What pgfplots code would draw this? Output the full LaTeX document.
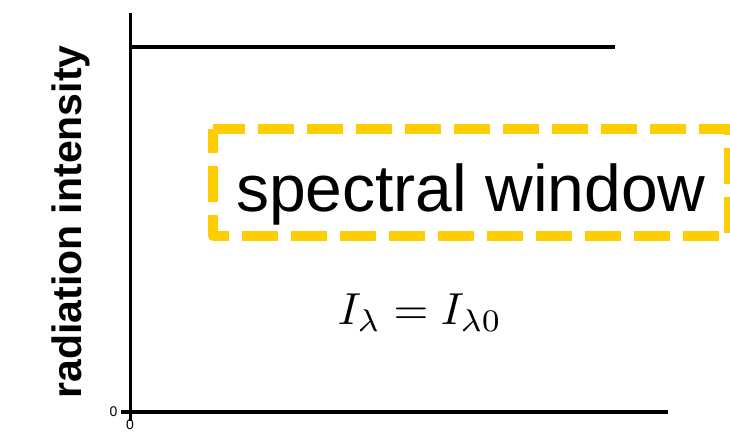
\documentclass[border=0pt]{standalone}
\usepackage{fontspec}
\setmainfont{Liberation Sans}
\usepackage{pgfplots}
\pgfplotsset{compat=1.18}
\definecolor{boxyellow}{RGB}{255,206,0}
\begin{document}
\begin{tikzpicture}
\useasboundingbox (0,0) rectangle (730bp,435bp);
\begin{axis}[
  at={(130bp,23bp)}, anchor=south west,
  scale only axis, width=538bp, height=399bp,
  xmin=0, xmax=538, ymin=0, ymax=399,
  axis lines=left,
  axis line style={-, line width=3bp, black},
  xtick={0}, ytick={0},
  tick align=outside,
  major tick length=9bp,
  every tick/.style={black, line width=3bp},
  tick label style={font=\fontsize{14bp}{14bp}\selectfont},
  /pgf/number format/assume math mode=true,
  xticklabel style={yshift=2bp, inner sep=0.5bp},
  clip=false,
]
\addplot[black, line width=3.5bp] coordinates {(0,365) (485,365)};
\draw[boxyellow, line width=10bp, dash pattern=on 36bp off 13bp, dash phase=12bp, line join=round]
  (axis cs:83,282.5) rectangle (axis cs:599,176);
\node[anchor=base, inner sep=0pt, font=\fontsize{66bp}{70bp}\selectfont] at (axis cs:341,200) {spectral window};
\node[anchor=base, inner sep=0pt, scale=4.5] at (axis cs:290,87) {$I_\lambda = I_{\lambda 0}$};
\node[rotate=90, anchor=base, inner sep=0pt, font=\bfseries\fontsize{41bp}{44bp}\selectfont] at (axis cs:-48,190) {radiation intensity};
\end{axis}
\end{tikzpicture}
\end{document}
